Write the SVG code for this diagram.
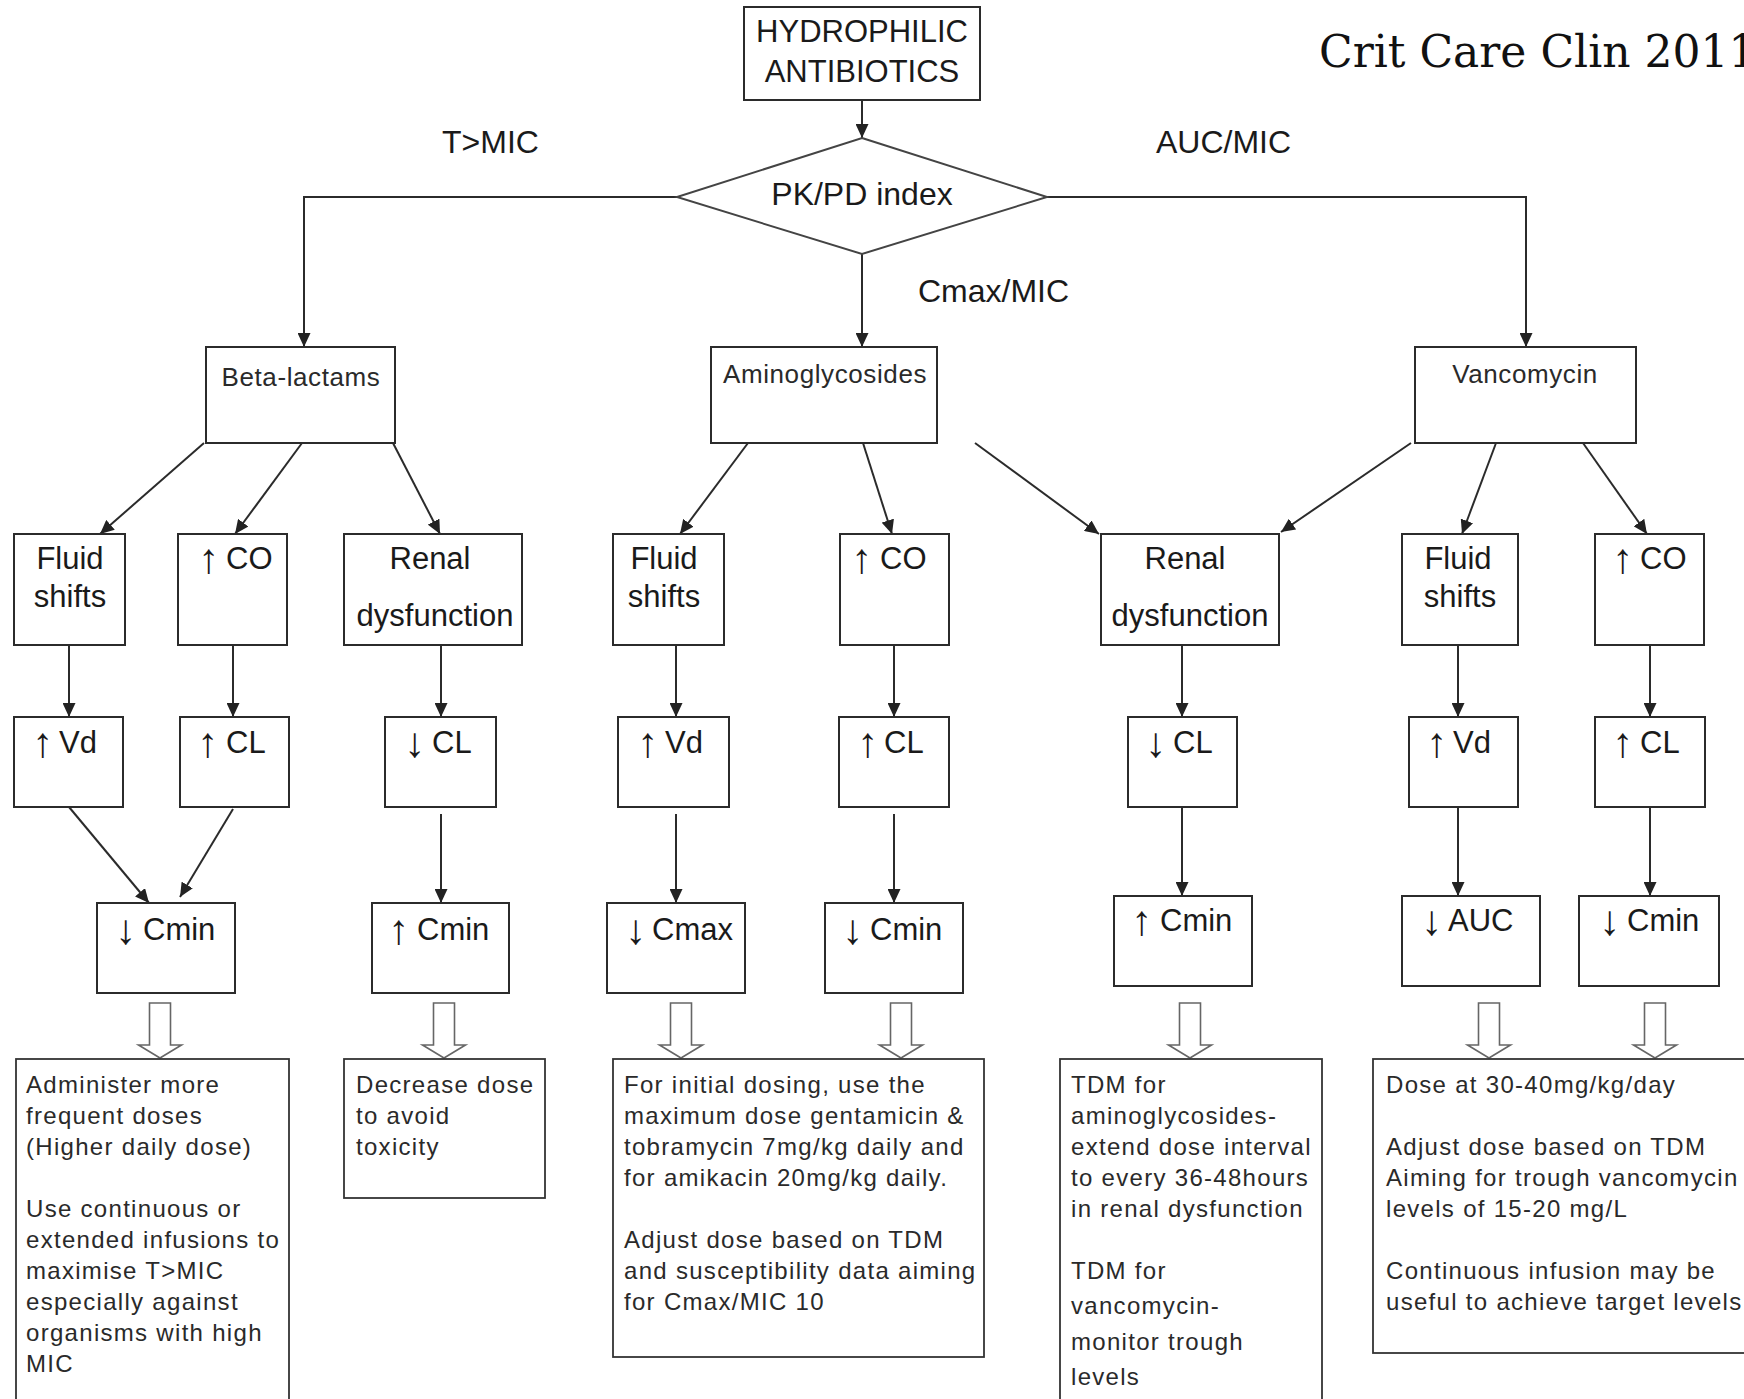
<svg xmlns="http://www.w3.org/2000/svg" width="1744" height="1399" viewBox="0 0 1744 1399">
<style>
.box{fill:#fff;stroke:#2b2b2b;stroke-width:2}
.bbox{fill:#fff;stroke:#333;stroke-width:1.8}
.t{font-family:"Liberation Sans",Arial,sans-serif;fill:#1a1a1a}
.big{font-size:32px}
.mid{font-size:31px}
.ar{font-size:42px}
.drug{font-size:26px;letter-spacing:0.6px;fill:#2a2a2a}
.note{font-size:24px;letter-spacing:1.3px;fill:#2a2a2a}
.c{text-anchor:middle}
.con{stroke:#2b2b2b;stroke-width:2;fill:none}
.hol{fill:#fff;stroke:#666;stroke-width:1.6}
.ref{font-family:"DejaVu Serif","Liberation Serif",serif;font-size:44px;fill:#111}
</style>
<defs>
<marker id="ah" markerUnits="userSpaceOnUse" markerWidth="14" markerHeight="13" refX="14" refY="6.5" orient="auto">
<path d="M0,0 L14,6.5 L0,13 z" fill="#222"/>
</marker>
<path id="hollow" d="M-10.5,0 L10.5,0 L10.5,42 L21.5,42 L0,55 L-21.5,42 L-10.5,42 Z"/>
</defs>
<rect width="1744" height="1399" fill="#fff"/>

<text class="ref" x="1319" y="67">Crit Care Clin 2011</text>
<text class="t big" x="442" y="153">T&gt;MIC</text>
<text class="t big" x="1156" y="153">AUC/MIC</text>
<text class="t big" x="918" y="302">Cmax/MIC</text>

<g id="connectors">
<line class="con" x1="862" y1="100" x2="862" y2="138" marker-end="url(#ah)"/>
<polyline class="con" points="677,197 304,197 304,347" marker-end="url(#ah)"/>
<polyline class="con" points="1047,197 1526,197 1526,347" marker-end="url(#ah)"/>
<line class="con" x1="862" y1="254" x2="862" y2="347" marker-end="url(#ah)"/>

<line class="con" x1="204" y1="443" x2="100" y2="534" marker-end="url(#ah)"/>
<line class="con" x1="302" y1="443" x2="235" y2="534" marker-end="url(#ah)"/>
<line class="con" x1="393" y1="443" x2="440" y2="534" marker-end="url(#ah)"/>
<line class="con" x1="748" y1="443" x2="680" y2="534" marker-end="url(#ah)"/>
<line class="con" x1="863" y1="443" x2="892" y2="534" marker-end="url(#ah)"/>
<line class="con" x1="975" y1="443" x2="1099" y2="534" marker-end="url(#ah)"/>
<line class="con" x1="1411" y1="443" x2="1281" y2="532" marker-end="url(#ah)"/>
<line class="con" x1="1496" y1="443" x2="1462" y2="534" marker-end="url(#ah)"/>
<line class="con" x1="1583" y1="443" x2="1647" y2="534" marker-end="url(#ah)"/>

<line class="con" x1="69" y1="645" x2="69" y2="717" marker-end="url(#ah)"/>
<line class="con" x1="233" y1="645" x2="233" y2="717" marker-end="url(#ah)"/>
<line class="con" x1="441" y1="645" x2="441" y2="717" marker-end="url(#ah)"/>
<line class="con" x1="676" y1="645" x2="676" y2="717" marker-end="url(#ah)"/>
<line class="con" x1="894" y1="645" x2="894" y2="717" marker-end="url(#ah)"/>
<line class="con" x1="1182" y1="645" x2="1182" y2="717" marker-end="url(#ah)"/>
<line class="con" x1="1458" y1="645" x2="1458" y2="717" marker-end="url(#ah)"/>
<line class="con" x1="1650" y1="645" x2="1650" y2="717" marker-end="url(#ah)"/>

<line class="con" x1="69" y1="807" x2="149" y2="903" marker-end="url(#ah)"/>
<line class="con" x1="233" y1="809" x2="180" y2="897" marker-end="url(#ah)"/>
<line class="con" x1="441" y1="814" x2="441" y2="903" marker-end="url(#ah)"/>
<line class="con" x1="676" y1="814" x2="676" y2="903" marker-end="url(#ah)"/>
<line class="con" x1="894" y1="814" x2="894" y2="903" marker-end="url(#ah)"/>
<line class="con" x1="1182" y1="807" x2="1182" y2="896" marker-end="url(#ah)"/>
<line class="con" x1="1458" y1="807" x2="1458" y2="896" marker-end="url(#ah)"/>
<line class="con" x1="1650" y1="807" x2="1650" y2="896" marker-end="url(#ah)"/>

<use href="#hollow" class="hol" x="160" y="1003"/>
<use href="#hollow" class="hol" x="444" y="1003"/>
<use href="#hollow" class="hol" x="681" y="1003"/>
<use href="#hollow" class="hol" x="901" y="1003"/>
<use href="#hollow" class="hol" x="1190" y="1003"/>
<use href="#hollow" class="hol" x="1489" y="1003"/>
<use href="#hollow" class="hol" x="1655" y="1003"/>
</g>

<g id="hydrophilic">
<rect class="box" x="744" y="7" width="236" height="93"/>
<text class="t big c" x="862" y="42" style="font-size:31px">HYDROPHILIC</text>
<text class="t big c" x="862" y="82" style="font-size:31px">ANTIBIOTICS</text>
</g>
<g id="pkpd">
<polygon class="box" points="862,138 1047,197 862,254 677,197" style="stroke:#444"/>
<text class="t big c" x="862" y="205">PK/PD index</text>
</g>

<g id="beta">
<rect class="box" x="206" y="347" width="189" height="96"/>
<text class="t drug c" x="301" y="386">Beta-lactams</text>
</g>
<g id="amino">
<rect class="box" x="711" y="347" width="226" height="96"/>
<text class="t drug c" x="825" y="383">Aminoglycosides</text>
</g>
<g id="vanco">
<rect class="box" x="1415" y="347" width="221" height="96"/>
<text class="t drug c" x="1525" y="383">Vancomycin</text>
</g>

<g id="fluid-l">
<rect class="box" x="14" y="534" width="111" height="111"/>
<text class="t mid c" x="70" y="569">Fluid</text>
<text class="t mid c" x="70" y="607">shifts</text>
</g>
<g id="co-l">
<rect class="box" x="178" y="534" width="109" height="111"/>
<text class="t mid"><tspan class="ar" x="198" y="573">↑</tspan><tspan x="226" y="569">CO</tspan></text>
</g>
<g id="renal-l">
<rect class="box" x="344" y="534" width="178" height="111"/>
<text class="t mid c" x="430" y="569">Renal</text>
<text class="t mid c" x="435" y="626">dysfunction</text>
</g>
<g id="fluid-m">
<rect class="box" x="613" y="534" width="111" height="111"/>
<text class="t mid c" x="664" y="569">Fluid</text>
<text class="t mid c" x="664" y="607">shifts</text>
</g>
<g id="co-m">
<rect class="box" x="840" y="534" width="109" height="111"/>
<text class="t mid"><tspan class="ar" x="851" y="573">↑</tspan><tspan x="880" y="569">CO</tspan></text>
</g>
<g id="renal-r">
<rect class="box" x="1101" y="534" width="178" height="111"/>
<text class="t mid c" x="1185" y="569">Renal</text>
<text class="t mid c" x="1190" y="626">dysfunction</text>
</g>
<g id="fluid-r">
<rect class="box" x="1402" y="534" width="116" height="111"/>
<text class="t mid c" x="1458" y="569">Fluid</text>
<text class="t mid c" x="1460" y="607">shifts</text>
</g>
<g id="co-r">
<rect class="box" x="1595" y="534" width="109" height="111"/>
<text class="t mid"><tspan class="ar" x="1612" y="573">↑</tspan><tspan x="1640" y="569">CO</tspan></text>
</g>

<g id="vd-l">
<rect class="box" x="14" y="717" width="109" height="90"/>
<text class="t mid"><tspan class="ar" x="32" y="757">↑</tspan><tspan x="59" y="753">Vd</tspan></text>
</g>
<g id="cl-l">
<rect class="box" x="180" y="717" width="109" height="90"/>
<text class="t mid"><tspan class="ar" x="197" y="757">↑</tspan><tspan x="226" y="753">CL</tspan></text>
</g>
<g id="dcl-l">
<rect class="box" x="385" y="717" width="111" height="90"/>
<text class="t mid"><tspan class="ar" x="404" y="757">↓</tspan><tspan x="432" y="753">CL</tspan></text>
</g>
<g id="vd-m">
<rect class="box" x="618" y="717" width="111" height="90"/>
<text class="t mid"><tspan class="ar" x="637" y="757">↑</tspan><tspan x="665" y="753">Vd</tspan></text>
</g>
<g id="cl-m">
<rect class="box" x="839" y="717" width="110" height="90"/>
<text class="t mid"><tspan class="ar" x="857" y="757">↑</tspan><tspan x="884" y="753">CL</tspan></text>
</g>
<g id="dcl-r">
<rect class="box" x="1128" y="717" width="109" height="90"/>
<text class="t mid"><tspan class="ar" x="1145" y="757">↓</tspan><tspan x="1173" y="753">CL</tspan></text>
</g>
<g id="vd-r">
<rect class="box" x="1409" y="717" width="109" height="90"/>
<text class="t mid"><tspan class="ar" x="1426" y="757">↑</tspan><tspan x="1453" y="753">Vd</tspan></text>
</g>
<g id="cl-r">
<rect class="box" x="1595" y="717" width="110" height="90"/>
<text class="t mid"><tspan class="ar" x="1612" y="757">↑</tspan><tspan x="1640" y="753">CL</tspan></text>
</g>

<g id="dcmin-l">
<rect class="box" x="97" y="903" width="138" height="90"/>
<text class="t mid"><tspan class="ar" x="115" y="944">↓</tspan><tspan x="143" y="940">Cmin</tspan></text>
</g>
<g id="ucmin-l">
<rect class="box" x="372" y="903" width="137" height="90"/>
<text class="t mid"><tspan class="ar" x="388" y="944">↑</tspan><tspan x="417" y="940">Cmin</tspan></text>
</g>
<g id="dcmax">
<rect class="box" x="607" y="903" width="138" height="90"/>
<text class="t mid"><tspan class="ar" x="625" y="944">↓</tspan><tspan x="652" y="940">Cmax</tspan></text>
</g>
<g id="dcmin-m">
<rect class="box" x="825" y="903" width="138" height="90"/>
<text class="t mid"><tspan class="ar" x="842" y="944">↓</tspan><tspan x="870" y="940">Cmin</tspan></text>
</g>
<g id="ucmin-r">
<rect class="box" x="1114" y="896" width="138" height="90"/>
<text class="t mid"><tspan class="ar" x="1131" y="935">↑</tspan><tspan x="1160" y="931">Cmin</tspan></text>
</g>
<g id="dauc">
<rect class="box" x="1402" y="896" width="138" height="90"/>
<text class="t mid"><tspan class="ar" x="1421" y="935">↓</tspan><tspan x="1448" y="931">AUC</tspan></text>
</g>
<g id="dcmin-r">
<rect class="box" x="1579" y="896" width="140" height="90"/>
<text class="t mid"><tspan class="ar" x="1599" y="935">↓</tspan><tspan x="1627" y="931">Cmin</tspan></text>
</g>

<g id="note-beta">
<rect class="bbox" x="16" y="1059" width="273" height="380"/>
<text class="t note">
<tspan x="26" y="1093">Administer more</tspan>
<tspan x="26" y="1124">frequent doses</tspan>
<tspan x="26" y="1155">(Higher daily dose)</tspan>
<tspan x="26" y="1217">Use continuous or</tspan>
<tspan x="26" y="1248">extended infusions to</tspan>
<tspan x="26" y="1279">maximise T&gt;MIC</tspan>
<tspan x="26" y="1310">especially against</tspan>
<tspan x="26" y="1341">organisms with high</tspan>
<tspan x="26" y="1372">MIC</tspan>
</text>
</g>
<g id="note-decrease">
<rect class="bbox" x="344" y="1059" width="201" height="139"/>
<text class="t note">
<tspan x="356" y="1093">Decrease dose</tspan>
<tspan x="356" y="1124">to avoid</tspan>
<tspan x="356" y="1155">toxicity</tspan>
</text>
</g>
<g id="note-amino">
<rect class="bbox" x="613" y="1059" width="371" height="298"/>
<text class="t note">
<tspan x="624" y="1093">For initial dosing, use the</tspan>
<tspan x="624" y="1124">maximum dose gentamicin &amp;</tspan>
<tspan x="624" y="1155">tobramycin 7mg/kg daily and</tspan>
<tspan x="624" y="1186">for amikacin 20mg/kg daily.</tspan>
<tspan x="624" y="1248">Adjust dose based on TDM</tspan>
<tspan x="624" y="1279">and susceptibility data aiming</tspan>
<tspan x="624" y="1310">for Cmax/MIC 10</tspan>
</text>
</g>
<g id="note-tdm">
<rect class="bbox" x="1060" y="1059" width="262" height="380"/>
<text class="t note">
<tspan x="1071" y="1093">TDM for</tspan>
<tspan x="1071" y="1124">aminoglycosides-</tspan>
<tspan x="1071" y="1155">extend dose interval</tspan>
<tspan x="1071" y="1186">to every 36-48hours</tspan>
<tspan x="1071" y="1217">in renal dysfunction</tspan>
<tspan x="1071" y="1279">TDM for</tspan>
<tspan x="1071" y="1314">vancomycin-</tspan>
<tspan x="1071" y="1350">monitor trough</tspan>
<tspan x="1071" y="1385">levels</tspan>
</text>
</g>
<g id="note-vanco">
<rect class="bbox" x="1373" y="1059" width="400" height="294"/>
<text class="t note">
<tspan x="1386" y="1093">Dose at 30-40mg/kg/day</tspan>
<tspan x="1386" y="1155">Adjust dose based on TDM</tspan>
<tspan x="1386" y="1186">Aiming for trough vancomycin</tspan>
<tspan x="1386" y="1217">levels of 15-20 mg/L</tspan>
<tspan x="1386" y="1279">Continuous infusion may be</tspan>
<tspan x="1386" y="1310">useful to achieve target levels</tspan>
</text>
</g>
</svg>
